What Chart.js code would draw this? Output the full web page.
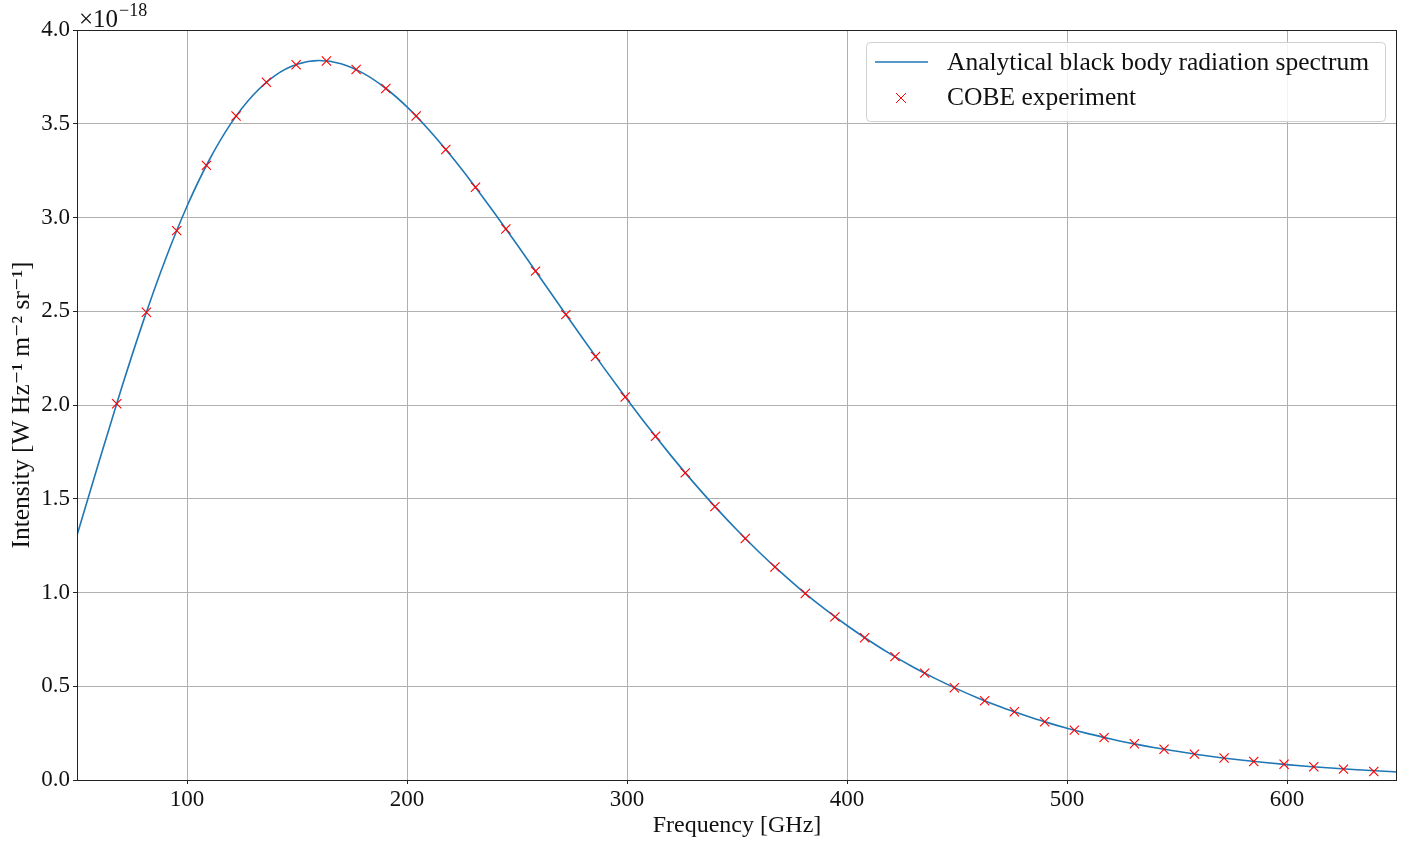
<!DOCTYPE html>
<html>
<head>
<meta charset="utf-8">
<script src="https://cdn.jsdelivr.net/npm/chart.js@4"></script>
<style>
  html, body { margin: 0; padding: 0; background: #fff; }
</style>
</head>
<body>
<canvas id="planck" width="1412" height="842"></canvas>
<script>
// Analytical curve, intensity in units of 1e-18 W Hz^-1 m^-2 sr^-1
const lineFreq = [
  50, 60, 70, 80, 90, 100, 110, 120, 130, 140, 150, 160, 170, 180, 190, 200,
  210, 220, 230, 240, 250, 260, 270, 280, 290, 300, 310, 320, 330, 340, 350,
  360, 370, 380, 390, 400, 410, 420, 430, 440, 450, 460, 470, 480, 490, 500,
  510, 520, 530, 540, 550, 560, 570, 580, 590, 600, 610, 620, 630, 640, 650
];
const lineIntensity = [
  1.305, 1.697, 2.081, 2.442, 2.771, 3.060, 3.304, 3.502, 3.652, 3.757, 3.817,
  3.837, 3.820, 3.770, 3.692, 3.590, 3.467, 3.329, 3.179, 3.020, 2.856, 2.688,
  2.520, 2.353, 2.190, 2.031, 1.877, 1.730, 1.590, 1.458, 1.333, 1.216, 1.107,
  1.005, 0.911, 0.824, 0.744, 0.670, 0.603, 0.542, 0.486, 0.435, 0.389, 0.348,
  0.310, 0.276, 0.246, 0.219, 0.194, 0.172, 0.153, 0.135, 0.119, 0.105, 0.093,
  0.082, 0.072, 0.064, 0.056, 0.049, 0.043
];

// COBE / FIRAS measurements
const cobeFreq = [
  68.05, 81.54, 95.33, 108.82, 122.31, 136.10, 149.60, 163.39, 176.88, 190.37,
  204.16, 217.65, 231.14, 244.93, 258.42, 272.21, 285.70, 299.19, 312.98, 326.47,
  339.96, 353.75, 367.24, 381.03, 394.52, 408.01, 421.80, 435.30, 448.79, 462.58,
  476.07, 489.86, 503.35, 516.84, 530.63, 544.12, 557.91, 571.40, 584.89, 598.68,
  612.17, 625.66, 639.45
];
const cobeIntensity = [
  2.007, 2.495, 2.930, 3.278, 3.541, 3.721, 3.815, 3.835, 3.789, 3.688,
  3.541, 3.363, 3.161, 2.939, 2.714, 2.482, 2.259, 2.043, 1.833, 1.638,
  1.458, 1.288, 1.136, 0.995, 0.870, 0.759, 0.658, 0.570, 0.492, 0.423,
  0.364, 0.311, 0.266, 0.226, 0.193, 0.164, 0.138, 0.117, 0.099, 0.084,
  0.071, 0.058, 0.045
];

const seriesLabels = ['Analytical black body radiation spectrum', 'COBE experiment'];
const xTicks = [100, 200, 300, 400, 500, 600];
const yTicks = [0, 0.5, 1.0, 1.5, 2.0, 2.5, 3.0, 3.5, 4.0];

const SERIF = '"Liberation Serif", "DejaVu Serif", serif';
const BLUE = '#1f77b4';

const toPoints = (xs, ys) => xs.map((x, i) => ({ x, y: ys[i] }));

// frame, exponent and legend are drawn by hand
const extras = {
  id: 'extras',
  afterDraw(chart) {
    const { ctx, chartArea: a } = chart;
    ctx.save();

    ctx.strokeStyle = '#222';
    ctx.lineWidth = 1;
    ctx.strokeRect(a.left + 0.5, a.top + 0.5, a.right - a.left - 1, a.bottom - a.top);

    // ×10^-18 offset text
    ctx.fillStyle = '#111';
    ctx.textBaseline = 'alphabetic';
    ctx.textAlign = 'left';
    ctx.font = '25px ' + SERIF;
    ctx.fillText('\u00d710', a.left + 2, 27);
    const w = ctx.measureText('\u00d710').width;
    ctx.font = '18px ' + SERIF;
    ctx.fillText('\u221218', a.left + 3 + w, 16);

    // legend box
    const bx = 866, by = 42, bw = 519, bh = 79;
    ctx.beginPath();
    ctx.roundRect(bx + 0.5, by + 0.5, bw, bh, 4);
    ctx.fillStyle = 'rgba(255,255,255,0.85)';
    ctx.fill();
    ctx.strokeStyle = '#d0d0d0';
    ctx.stroke();

    ctx.strokeStyle = BLUE;
    ctx.lineWidth = 1.5;
    ctx.beginPath();
    ctx.moveTo(875, 62);
    ctx.lineTo(928, 62);
    ctx.stroke();

    ctx.strokeStyle = 'red';
    ctx.lineWidth = 1;
    ctx.beginPath();
    ctx.moveTo(896, 93); ctx.lineTo(906, 103);
    ctx.moveTo(906, 93); ctx.lineTo(896, 103);
    ctx.stroke();

    ctx.fillStyle = '#111';
    ctx.font = '25.5px ' + SERIF;
    ctx.textBaseline = 'middle';
    ctx.fillText(seriesLabels[0], 947, 63);
    ctx.fillText(seriesLabels[1], 947, 98);
    ctx.restore();
  }
};

new Chart(document.getElementById('planck'), {
  type: 'scatter',
  data: {
    datasets: [
      {
        label: seriesLabels[0],
        data: toPoints(lineFreq, lineIntensity),
        showLine: true,
        borderColor: BLUE,
        borderWidth: 1.6,
        pointRadius: 0,
        cubicInterpolationMode: 'monotone',
        order: 2
      },
      {
        label: seriesLabels[1],
        data: toPoints(cobeFreq, cobeIntensity),
        showLine: false,
        pointStyle: 'crossRot',
        pointRadius: 6.5,
        pointBorderWidth: 1.1,
        borderColor: 'red',
        backgroundColor: 'red',
        order: 1
      }
    ]
  },
  options: {
    responsive: false,
    animation: false,
    layout: { padding: { top: 30, right: 15, left: 0, bottom: 0 } },
    plugins: { legend: { display: false }, tooltip: { enabled: false } },
    scales: {
      x: {
        type: 'linear',
        min: 50,
        max: 650,
        afterBuildTicks: s => { s.ticks = xTicks.map(v => ({ value: v })); },
        afterFit: s => { s.height = 62; },
        grid: { color: '#b0b0b0', lineWidth: 1, tickLength: 4, tickColor: '#222' },
        border: { display: false },
        ticks: { color: '#111', font: { family: SERIF, size: 23 }, padding: 2, maxRotation: 0 },
        title: {
          display: true,
          text: 'Frequency [GHz]',
          color: '#111',
          font: { family: SERIF, size: 24 },
          padding: { top: 0, bottom: 2 }
        }
      },
      y: {
        min: 0,
        max: 4,
        afterBuildTicks: s => { s.ticks = yTicks.map(v => ({ value: v })); },
        afterFit: s => { s.width = 77; },
        grid: { color: '#b0b0b0', lineWidth: 1, tickLength: 4, tickColor: '#222' },
        border: { display: false },
        ticks: {
          color: '#111',
          font: { family: SERIF, size: 23 },
          padding: 3,
          callback: v => v.toFixed(1)
        },
        title: {
          display: true,
          text: 'Intensity [W Hz\u207b\u00b9 m\u207b\u00b2 sr\u207b\u00b9]',
          color: '#111',
          font: { family: SERIF, size: 25.5 },
          padding: { top: 7, bottom: 0 }
        }
      }
    }
  },
  plugins: [extras]
});
</script>
</body>
</html>
